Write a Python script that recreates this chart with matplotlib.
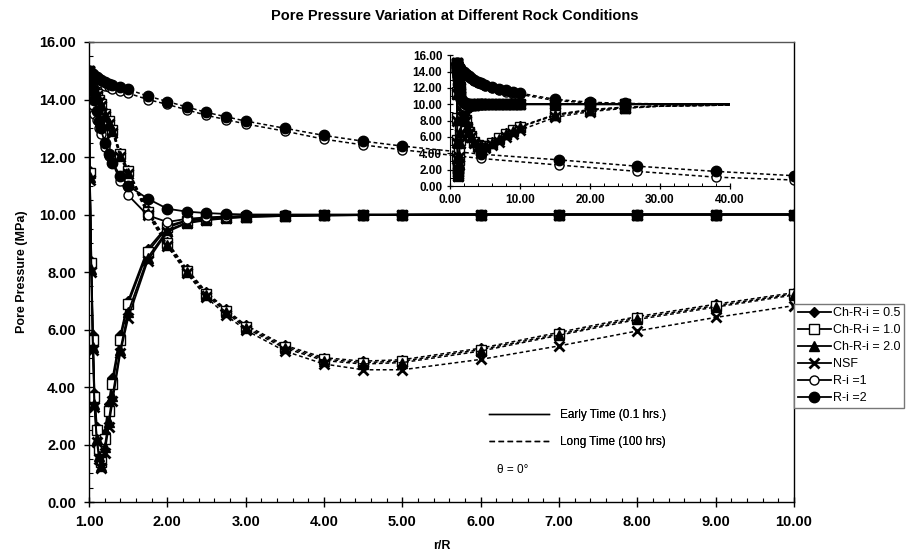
import matplotlib
matplotlib.use('Agg')
import matplotlib.pyplot as plt
from matplotlib.ticker import MultipleLocator, FormatStrFormatter
from matplotlib.lines import Line2D

plt.rcParams['font.family'] = ['Liberation Sans', 'DejaVu Sans']

# ---------------- data ----------------
r_over_R = [1.00, 1.01, 1.03, 1.05, 1.07, 1.10, 1.13, 1.15, 1.20, 1.25, 1.30,
            1.40, 1.50, 1.75, 2.00, 2.25, 2.50, 2.75, 3.00, 3.50, 4.00, 4.50,
            5.00, 6.00, 7.00, 8.00, 9.00, 10.0, 15.0, 20.0, 25.0, 30.0, 40.0]

series_names = ["Ch-R-i = 0.5", "Ch-R-i = 1.0", "Ch-R-i = 2.0", "NSF", "R-i =1", "R-i =2"]

# early time (0.1 hrs) pore pressure, MPa
early_ch05 = [15.0, 11.5, 8.4, 5.8, 3.8, 2.6, 2.0, 1.6, 2.4, 3.4, 4.3,
              5.8, 7.0, 8.8, 9.6, 9.8, 9.87, 9.91, 9.94, 9.96, 9.98, 9.99,
              9.99, 10.0, 10.0, 10.0, 10.0, 10.0, 10.0, 10.0, 10.0, 10.0, 10.0]
early_ch10 = [15.0, 11.45, 8.3, 5.65, 3.65, 2.5, 1.85, 1.4, 2.2, 3.15, 4.1,
              5.65, 6.9, 8.7, 9.55, 9.78, 9.85, 9.9, 9.93, 9.96, 9.97, 9.98,
              9.99, 10.0, 10.0, 10.0, 10.0, 10.0, 10.0, 10.0, 10.0, 10.0, 10.0]
early_ch20 = [15.0, 11.3, 8.1, 5.4, 3.4, 2.2, 1.6, 1.25, 1.9, 2.8, 3.7,
              5.3, 6.6, 8.5, 9.45, 9.72, 9.82, 9.88, 9.92, 9.95, 9.97, 9.98,
              9.99, 10.0, 10.0, 10.0, 10.0, 10.0, 10.0, 10.0, 10.0, 10.0, 10.0]
early_nsf = [15.0, 11.2, 8.0, 5.3, 3.3, 2.1, 1.5, 1.2, 1.7, 2.6, 3.5,
             5.2, 6.4, 8.4, 9.4, 9.7, 9.8, 9.87, 9.91, 9.95, 9.97, 9.98,
             9.99, 10.0, 10.0, 10.0, 10.0, 10.0, 10.0, 10.0, 10.0, 10.0, 10.0]
early_ri1 = [15.0, 14.7, 14.3, 13.8, 13.5, 13.3, 13.0, 12.8, 12.35, 12.05, 11.8,
             11.17, 10.67, 9.97, 9.74, 9.85, 9.9, 9.93, 9.95, 9.97, 9.98, 9.99,
             9.99, 10.0, 10.0, 10.0, 10.0, 10.0, 10.0, 10.0, 10.0, 10.0, 10.0]
early_ri2 = [15.0, 14.85, 14.6, 14.3, 14.0, 13.6, 13.25, 13.0, 12.5, 12.1, 11.8,
             11.35, 11.0, 10.55, 10.2, 10.1, 10.05, 10.02, 10.0, 10.0, 10.0, 10.0,
             10.0, 10.0, 10.0, 10.0, 10.0, 10.0, 10.0, 10.0, 10.0, 10.0, 10.0]

# long time (100 hrs) pore pressure, MPa
long_ch05 = [15.0, 14.92, 14.78, 14.63, 14.48, 14.25, 14.05, 13.9, 13.55, 13.3, 13.0,
             12.15, 11.55, 10.15, 9.05, 8.1, 7.3, 6.7, 6.15, 5.45, 5.02, 4.9,
             4.95, 5.35, 5.9, 6.45, 6.88, 7.28, 8.75, 9.35, 9.65, 9.8, 9.92]
long_ch10 = [15.0, 14.9, 14.75, 14.6, 14.45, 14.2, 14.0, 13.85, 13.5, 13.25, 12.95,
             12.1, 11.5, 10.1, 9.0, 8.05, 7.25, 6.65, 6.1, 5.4, 4.97, 4.85,
             4.9, 5.3, 5.84, 6.4, 6.83, 7.24, 8.7, 9.3, 9.6, 9.78, 9.9]
long_ch20 = [15.0, 14.88, 14.72, 14.56, 14.4, 14.15, 13.95, 13.8, 13.45, 13.2, 12.9,
             12.05, 11.45, 10.05, 8.95, 8.0, 7.2, 6.6, 6.05, 5.35, 4.92, 4.8,
             4.85, 5.25, 5.8, 6.35, 6.78, 7.2, 8.65, 9.28, 9.58, 9.77, 9.9]
long_nsf = [15.0, 14.87, 14.7, 14.54, 14.38, 14.12, 13.92, 13.77, 13.42, 13.15, 12.85,
            12.0, 11.4, 10.0, 8.9, 7.95, 7.12, 6.5, 5.98, 5.25, 4.8, 4.6,
            4.6, 4.96, 5.43, 5.95, 6.42, 6.83, 8.4, 9.1, 9.5, 9.75, 9.9]
long_ri1 = [15.0, 14.95, 14.88, 14.82, 14.76, 14.68, 14.6, 14.56, 14.48, 14.42, 14.37,
            14.3, 14.22, 14.0, 13.83, 13.64, 13.45, 13.3, 13.15, 12.9, 12.62, 12.42,
            12.25, 11.95, 11.72, 11.5, 11.3, 11.2, 10.45, 10.15, 10.05, 10.0, 10.0]
long_ri2 = [15.0, 14.97, 14.92, 14.88, 14.83, 14.77, 14.7, 14.67, 14.6, 14.55, 14.5,
            14.42, 14.35, 14.12, 13.93, 13.74, 13.55, 13.4, 13.25, 13.0, 12.75, 12.55,
            12.38, 12.1, 11.9, 11.68, 11.5, 11.35, 10.6, 10.25, 10.1, 10.05, 10.0]

early_all = [early_ch05, early_ch10, early_ch20, early_nsf, early_ri1, early_ri2]
long_all = [long_ch05, long_ch10, long_ch20, long_nsf, long_ri1, long_ri2]

x_ticks_main = [1.0, 2.0, 3.0, 4.0, 5.0, 6.0, 7.0, 8.0, 9.0, 10.0]
y_ticks_main = [0, 2, 4, 6, 8, 10, 12, 14, 16]
x_ticks_inset = [0, 10, 20, 30, 40]
time_labels = ["Early Time (0.1 hrs.)", "Long Time (100 hrs)"]

# ---------------- styles ----------------
styles = [
    dict(marker='D', mfc='black', ms=5.5),
    dict(marker='s', mfc='white', ms=6.5),
    dict(marker='^', mfc='black', ms=6.5),
    dict(marker='x', mfc='black', ms=6.5, mew=2.0),
    dict(marker='o', mfc='white', ms=6.5),
    dict(marker='o', mfc='black', ms=7.5),
]
dash = (0, (2.5, 1.8))

fig = plt.figure(figsize=(9.1, 5.57), dpi=100)
ax = fig.add_axes([0.0978, 0.0987, 0.7747, 0.8259])

for name, st, ye, yl in zip(series_names, styles, early_all, long_all):
    ax.plot(r_over_R, yl, color='black', lw=1.1, linestyle=dash, mec='black',
            mew=st.get('mew', 1.0), marker=st['marker'], mfc=st['mfc'], ms=st['ms'])
    ax.plot(r_over_R, ye, color='black', lw=1.3, linestyle='-', mec='black',
            mew=st.get('mew', 1.0), marker=st['marker'], mfc=st['mfc'], ms=st['ms'],
            label=name)

ax.set_xlim(1.0, 10.0)
ax.set_ylim(0, 16)
ax.set_xticks(x_ticks_main)
ax.set_yticks(y_ticks_main)
ax.xaxis.set_minor_locator(MultipleLocator(0.2))
ax.yaxis.set_minor_locator(MultipleLocator(0.5))
ax.xaxis.set_major_formatter(FormatStrFormatter('%.2f'))
ax.yaxis.set_major_formatter(FormatStrFormatter('%.2f'))
ax.tick_params(which='major', direction='inout', length=7, width=1, labelsize=10.5, pad=6)
ax.tick_params(which='minor', direction='in', length=3, width=0.8)
ax.tick_params(top=False, right=False, which='both')
for lab in ax.get_xticklabels() + ax.get_yticklabels():
    lab.set_fontweight('bold')
for s in ax.spines.values():
    s.set_linewidth(1.0)
ax.spines['top'].set_color('#555555')
ax.spines['right'].set_color('black')

ax.set_xlabel('r/R', fontsize=9, fontweight='bold', labelpad=8)
ax.set_ylabel('Pore Pressure (MPa)', fontsize=9, fontweight='bold', labelpad=8)
fig.suptitle('Pore Pressure Variation at Different Rock Conditions',
             fontsize=10.5, fontweight='bold', x=0.50, y=0.983)

# main legend at right
fig.legend(loc='upper left', bbox_to_anchor=(0.873, 0.455), fontsize=9,
           frameon=True, fancybox=False, edgecolor='#777777', framealpha=1,
           handlelength=2.6, handletextpad=0.2, labelspacing=0.4,
           borderpad=0.3, borderaxespad=0)

# time-style legend inside the chart
time_handles = [Line2D([], [], color='black', lw=1.0, linestyle='-'),
                Line2D([], [], color='black', lw=1.0, linestyle=(0, (4, 2.5)))]
leg2 = ax.legend(time_handles, time_labels, loc='upper left',
                 bbox_to_anchor=(0.553, 0.225), fontsize=8.5, frameon=False,
                 handlelength=5.0, handletextpad=1.0, labelspacing=1.3)
ax.add_artist(leg2)
ax.text(0.579, 0.07, 'θ = 0°', transform=ax.transAxes, fontsize=8.5,
        ha='left', va='center')

# ---------------- inset ----------------
axi = fig.add_axes([0.4945, 0.666, 0.3077, 0.235])
axi.patch.set_visible(False)
show_idx = [i for i, v in enumerate(r_over_R) if v <= 25.0]
for st, ye, yl in zip(styles, early_all, long_all):
    axi.plot(r_over_R, yl, color='black', lw=1.1, linestyle=dash, mec='black',
             mew=st.get('mew', 1.0), marker=st['marker'], mfc=st['mfc'],
             ms=st['ms'], markevery=show_idx)
    axi.plot(r_over_R, ye, color='black', lw=1.2, linestyle='-', mec='black',
             mew=st.get('mew', 1.0), marker=st['marker'], mfc=st['mfc'],
             ms=st['ms'], markevery=show_idx)
axi.set_xlim(0, 40)
axi.set_ylim(0, 16)
axi.set_xticks(x_ticks_inset)
axi.set_yticks(y_ticks_main)
axi.xaxis.set_minor_locator(MultipleLocator(2))
axi.yaxis.set_minor_locator(MultipleLocator(1))
axi.xaxis.set_major_formatter(FormatStrFormatter('%.2f'))
axi.yaxis.set_major_formatter(FormatStrFormatter('%.2f'))
axi.tick_params(which='major', direction='inout', length=5, width=0.9, labelsize=8.5, pad=3)
axi.tick_params(which='minor', direction='in', length=2.5, width=0.7)
for lab in axi.get_xticklabels() + axi.get_yticklabels():
    lab.set_fontweight('bold')
axi.spines['top'].set_visible(False)
axi.spines['right'].set_visible(False)

fig.savefig('out.png', dpi=100)
